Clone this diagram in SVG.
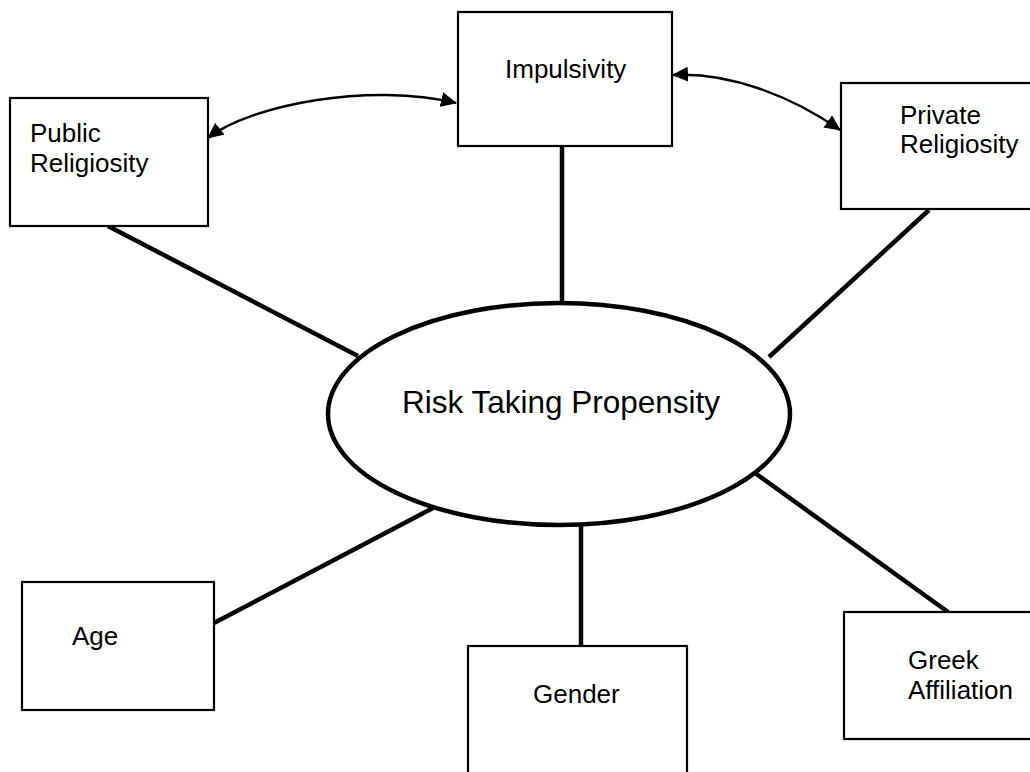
<svg xmlns="http://www.w3.org/2000/svg" width="1030" height="772" viewBox="0 0 1030 772">
<defs>
<style>
.box{fill:#fff;stroke:#000;stroke-width:2.2}
.lbl{font-family:"Liberation Sans",Arial,sans-serif;font-size:26px;fill:#000}
.main{font-family:"Liberation Sans",Arial,sans-serif;font-size:31.5px;fill:#000}
.link{stroke:#000;stroke-width:4.5;fill:none}
.curve{stroke:#000;stroke-width:2.4;fill:none;marker-start:url(#arr);marker-end:url(#arr)}
</style>
<marker id="arr" viewBox="0 0 16 15" refX="15" refY="7.5" markerWidth="16" markerHeight="15" markerUnits="userSpaceOnUse" orient="auto-start-reverse">
<path d="M0,0 L16,7.5 L0,15 z" fill="#000"/>
</marker>
</defs>
<rect width="1030" height="772" fill="#fff"/>
<g id="connectors">
<line class="link" x1="108" y1="226" x2="358" y2="356"/>
<line class="link" x1="562" y1="146" x2="562" y2="302"/>
<line class="link" x1="929" y1="210" x2="769" y2="357"/>
<line class="link" x1="214" y1="623" x2="433" y2="508"/>
<line class="link" x1="581" y1="524" x2="581" y2="646"/>
<line class="link" x1="755" y1="473" x2="948" y2="612"/>
<path class="curve" d="M208,138 C250,105 370,82 456,103"/>
<path class="curve" d="M673,75 C728,72 790,95 840,130"/>
</g>
<g id="public-religiosity">
<rect class="box" x="10" y="98" width="198" height="128"/>
<text class="lbl" x="30" y="142">Public</text>
<text class="lbl" x="30" y="172">Religiosity</text>
</g>
<g id="impulsivity">
<rect class="box" x="458" y="12" width="214" height="134"/>
<text class="lbl" x="505" y="78">Impulsivity</text>
</g>
<g id="private-religiosity">
<rect class="box" x="841" y="83" width="195" height="126"/>
<text class="lbl" x="900" y="124">Private</text>
<text class="lbl" x="900" y="153">Religiosity</text>
</g>
<g id="risk-taking-propensity">
<ellipse cx="559" cy="414" rx="231" ry="111" fill="#fff" stroke="#000" stroke-width="4.5"/>
<text class="main" x="561" y="413" text-anchor="middle">Risk Taking Propensity</text>
</g>
<g id="age">
<rect class="box" x="22" y="582" width="192" height="128"/>
<text class="lbl" x="72" y="645">Age</text>
</g>
<g id="gender">
<rect class="box" x="468" y="646" width="219" height="140"/>
<text class="lbl" x="533" y="703">Gender</text>
</g>
<g id="greek-affiliation">
<rect class="box" x="844" y="612" width="195" height="127"/>
<text class="lbl" x="908" y="669">Greek</text>
<text class="lbl" x="908" y="699">Affiliation</text>
</g>
</svg>
